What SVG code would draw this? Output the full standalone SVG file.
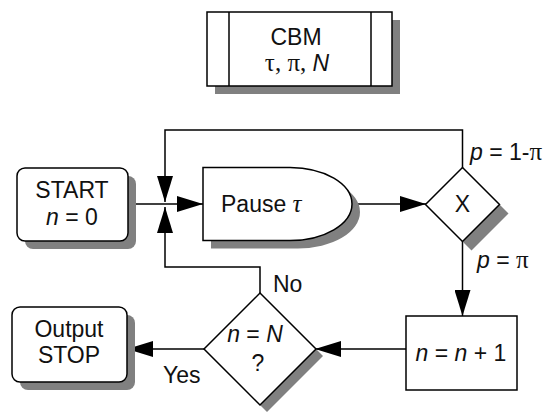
<svg xmlns="http://www.w3.org/2000/svg" width="556" height="415" viewBox="0 0 556 415">
<style>
  .shape { fill: #fff; stroke: #000; stroke-width: 1.5; }
  .shadow { fill: #808080; stroke: none; }
  .conn { fill: none; stroke: #000; stroke-width: 1.5; }
  .t { font-family: "Liberation Sans", Arial, sans-serif; font-size: 23px; fill: #111; }
  .g { font-family: "Liberation Serif", "Times New Roman", serif; font-size: 25px; }
  .i { font-style: italic; }
  .m { text-anchor: middle; }
</style>
<defs>
  <marker id="ah" viewBox="0 0 26 16" markerWidth="26" markerHeight="16" refX="26" refY="8" markerUnits="userSpaceOnUse" orient="auto">
    <path d="M0,0 L26,8 L0,16 Z" fill="#000"/>
  </marker>
</defs>
<rect width="556" height="415" fill="#fff"/>

<g id="connectors">
  <path class="conn" d="M128,204 H203" marker-end="url(#ah)"/>
  <path class="conn" d="M462.5,168 V130 H165 V202" marker-end="url(#ah)"/>
  <path class="conn" d="M260,293 V267 H165 V207" marker-end="url(#ah)"/>
  <path class="conn" d="M352,204 H426" marker-end="url(#ah)"/>
  <path class="conn" d="M462.5,241 V316" marker-end="url(#ah)"/>
  <path class="conn" d="M406,349 H315" marker-end="url(#ah)"/>
  <path class="conn" d="M204,349 H127" marker-end="url(#ah)"/>
</g>

<g id="cbm">
  <rect class="shadow" x="215" y="20" width="185" height="74"/>
  <rect class="shape" x="207" y="12" width="185" height="74"/>
  <line class="conn" x1="229" y1="12" x2="229" y2="86"/>
  <line class="conn" x1="371" y1="12" x2="371" y2="86"/>
  <text class="t m"><tspan x="296" y="45">CBM</tspan><tspan x="297" y="71"><tspan class="g">τ, π, </tspan><tspan class="i">N</tspan></tspan></text>
</g>

<g id="start">
  <rect class="shadow" x="25" y="176" width="111" height="73" rx="8"/>
  <rect class="shape" x="17" y="168" width="111" height="73" rx="8"/>
  <text class="t m"><tspan x="72" y="198">START</tspan><tspan x="72" y="225"><tspan class="i">n</tspan> = 0</tspan></text>
</g>

<g id="pause">
  <path class="shadow" d="M211,175.5 H298 A62,36.5 0 0 1 298,248.5 H211 Z"/>
  <path class="shape" d="M203,167.5 H290 A62,36.5 0 0 1 290,240.5 H203 Z"/>
  <text class="t" x="221" y="212">Pause <tspan class="g i">τ</tspan></text>
</g>

<g id="x-decision">
  <path class="shadow" d="M471.5,176.5 L508.5,213.5 L471.5,250.5 L434.5,213.5 Z"/>
  <path class="shape" d="M462.5,167.5 L499.5,204.5 L462.5,241.5 L425.5,204.5 Z"/>
  <text class="t m" x="462.5" y="212">X</text>
  <text class="t" x="470" y="160"><tspan class="i">p</tspan> = 1-<tspan class="g">π</tspan></text>
  <text class="t" x="477" y="268"><tspan class="i">p</tspan> = <tspan class="g">π</tspan></text>
</g>

<g id="increment">
  <rect class="shape" x="406" y="316" width="111" height="74"/>
  <text class="t m" x="461" y="361"><tspan class="i">n</tspan> = <tspan class="i">n</tspan> + 1</text>
</g>

<g id="n-decision">
  <path class="shadow" d="M267,300 L323,356 L267,412 L211,356 Z"/>
  <path class="shape" d="M260,293 L316,349 L260,405 L204,349 Z"/>
  <text class="t m"><tspan x="255" y="342"><tspan class="i">n</tspan> = <tspan class="i">N</tspan></tspan><tspan x="258" y="371">?</tspan></text>
  <text class="t" x="273" y="292">No</text>
  <text class="t" x="163" y="383">Yes</text>
</g>

<g id="output">
  <rect class="shadow" x="20" y="315" width="115" height="75" rx="8"/>
  <rect class="shape" x="12" y="307" width="115" height="75" rx="8"/>
  <text class="t m"><tspan x="69" y="337">Output</tspan><tspan x="69" y="363">STOP</tspan></text>
</g>
</svg>
